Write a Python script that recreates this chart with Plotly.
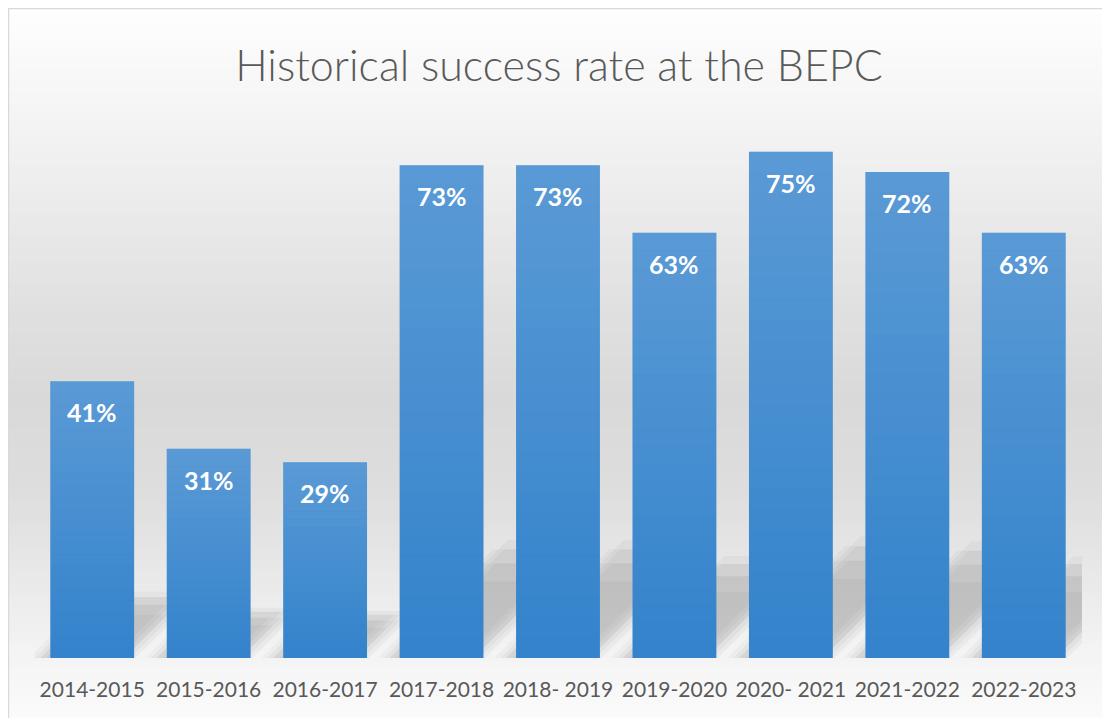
import plotly.graph_objects as go

# data
years = ["2014-2015", "2015-2016", "2016-2017", "2017-2018", "2018- 2019",
         "2019-2020", "2020- 2021", "2021-2022", "2022-2023"]
success_rate = [0.41, 0.31, 0.29, 0.73, 0.73, 0.63, 0.75, 0.72, 0.63]

# page puts the figure 8px in from the window corner
W, H = 1102, 710
M_L, M_R, M_T, M_B = 26, 28, 110, 60
PLOT_W = W - M_L - M_R
PLOT_H = H - M_T - M_B
Y_MAX = 0.80
BAR_W = 0.72
idx = list(range(len(years)))


def lerp_gray(stops, p):
    # stops: list of (pixel_y, gray level)
    for (y0, g0), (y1, g1) in zip(stops, stops[1:]):
        if y0 <= p <= y1:
            f = (p - y0) / (y1 - y0)
            g = round(g0 + (g1 - g0) * f)
            return f"rgb({g},{g},{g})"
    g = stops[-1][1]
    return f"rgb({g},{g},{g})"


def py_to_paper(p):
    return (H - M_B - p) / PLOT_H


def px_to_paper(p):
    return (p - M_L) / PLOT_W


shapes = []

# soft vertical background gradient (white -> light gray -> white)
bg_stops = [(0, 254), (90, 246), (190, 236), (290, 225), (390, 217),
            (490, 222), (570, 233), (640, 243), (710, 251)]
step = 6
for p in range(0, H, step):
    shapes.append(dict(type="rect", xref="paper", yref="paper",
                       x0=-0.1, x1=1.1, y0=py_to_paper(p + step + 1), y1=py_to_paper(p),
                       fillcolor=lerp_gray(bg_stops, p + step / 2),
                       line=dict(width=0), layer="below"))

# faint slanted reflection behind each bar, stacked for a soft edge
px_per_cat = PLOT_W / len(years)
px_per_unit = PLOT_H / Y_MAX
d0 = -10 / px_per_cat
blur = [(0.00, 1.00, 0.05), (0.05, 0.92, 0.05), (-0.05, 0.92, 0.05),
        (0.10, 0.80, 0.05), (-0.10, 0.80, 0.04), (0.0, 0.65, 0.05)]
for i, v in zip(idx, success_rate):
    for dx, hs, a in blur:
        h = 0.24 * v * hs
        shift = h * px_per_unit / px_per_cat
        xl = i - BAR_W / 2 + d0 + dx
        xr = i + BAR_W / 2 + d0 + dx
        path = f"M{xl},0 L{xr},0 L{xr + shift},{h} L{xl + shift},{h} Z"
        shapes.append(dict(type="path", xref="x", yref="y", path=path,
                           fillcolor=f"rgba(80,80,80,{a})",
                           line=dict(width=0), layer="below"))

# light-to-dark gradient on the bars (white wash, stronger near the top)
n = 24
for i, v in zip(idx, success_rate):
    for j in range(n):
        a = 0.19 * (j + 0.5) / n
        shapes.append(dict(type="rect", xref="x", yref="y",
                           x0=i - BAR_W / 2, x1=i + BAR_W / 2,
                           y0=v * j / n, y1=v * (j + 1) / n,
                           fillcolor=f"rgba(255,255,255,{a:.3f})",
                           line=dict(width=0), layer="above"))

# thin chart border (top and left visible)
shapes.append(dict(type="rect", xref="paper", yref="paper",
                   x0=px_to_paper(0.5), x1=1.2,
                   y0=-0.3, y1=py_to_paper(0.5),
                   line=dict(color="#d9d9d9", width=1.5), layer="above"))

fig = go.Figure(go.Bar(
    x=idx, y=success_rate, width=BAR_W,
    marker=dict(color="#3483cc", line=dict(width=0)),
    hovertemplate="%{customdata}: %{y:.0%}<extra></extra>",
    customdata=years,
))

annotations = []
for i, v in zip(idx, success_rate):
    annotations.append(dict(x=i, y=v, xref="x", yref="y", yshift=-31,
                            yanchor="middle", showarrow=False,
                            text=f"{v:.0%}",
                            font=dict(family="Lato", size=25, color="white", weight=700)))

fig.update_layout(
    width=W, height=H,
    margin=dict(l=M_L, r=M_R, t=M_T, b=M_B),
    paper_bgcolor="white",
    plot_bgcolor="rgba(0,0,0,0)",
    title=dict(text="Historical success rate at the BEPC",
               x=0.5, xanchor="center", y=1 - 58 / H, yanchor="middle",
               yref="container",
               font=dict(family="Lato", size=43, color="#595959", weight=300)),
    xaxis=dict(tickvals=idx, ticktext=years, range=[-0.5, len(years) - 0.5],
               showgrid=False, zeroline=False, showline=False, ticks="",
               ticklabelstandoff=17,
               tickfont=dict(family="Lato", size=21, color="#595959")),
    yaxis=dict(range=[0, Y_MAX], visible=False, showgrid=False, zeroline=False),
    shapes=shapes,
    annotations=annotations,
    showlegend=False,
)

fig.write_html("out.html")
